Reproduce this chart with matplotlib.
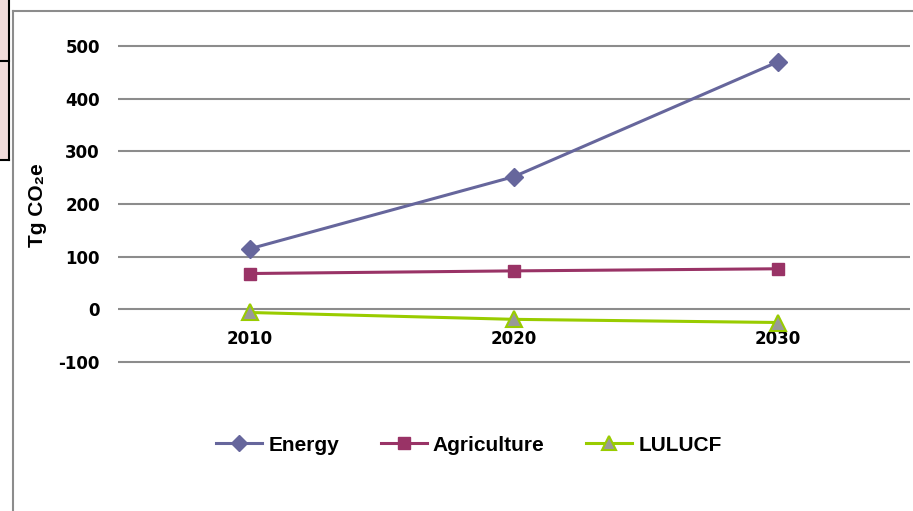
import matplotlib
matplotlib.use("Agg")
import matplotlib.pyplot as plt
from matplotlib.patches import Rectangle
from matplotlib.lines import Line2D

years = ["2010", "2020", "2030"]
energy = [115, 252, 470]
agriculture = [68, 73, 77]
lulucf = [-6, -19, -25]
y_ticks = [-100, 0, 100, 200, 300, 400, 500]

W, H = 913, 511
fig = plt.figure(figsize=(W / 100, H / 100), dpi=100)

# outer chart frame (top and left edges) and the clipped neighbour box
fig.add_artist(Line2D([13 / W, 13 / W], [0, 1 - 11 / H], color="#8c8c8c", lw=1.5))
fig.add_artist(Line2D([13 / W, 1], [1 - 11 / H, 1 - 11 / H], color="#8c8c8c", lw=1.5))
fig.add_artist(Rectangle((0, 1 - 160 / H), 8.5 / W, 160 / H, facecolor="#f2dcdb",
                         edgecolor="none"))
fig.add_artist(Line2D([8.5 / W, 8.5 / W], [1 - 160 / H, 1], color="black", lw=1.5))
fig.add_artist(Line2D([0, 8.5 / W], [1 - 160 / H, 1 - 160 / H], color="black", lw=1.5))
fig.add_artist(Line2D([0, 8.5 / W], [1 - 61 / H, 1 - 61 / H], color="black", lw=1.5))

left, right, top, bottom = 118, 910, 46, 362
ax = fig.add_axes([left / W, 1 - bottom / H, (right - left) / W, (bottom - top) / H])

x = [0.5, 1.5, 2.5]
ax.plot(x, energy, color="#66669c", lw=2.2, marker="D", ms=9, mfc="#66669c",
        mec="#66669c", label="Energy", zorder=3)
ax.plot(x, agriculture, color="#993366", lw=2.2, marker="s", ms=9, mfc="#993366",
        mec="#993366", label="Agriculture", zorder=3)
ax.plot(x, lulucf, color="#99cc00", lw=2.2, marker="^", ms=11, mfc="#999999",
        mec="#99cc00", mew=1.5, label="LULUCF", zorder=3)

ax.set_xlim(0, 3)
ax.set_ylim(-100, 500)
ax.set_yticks(y_ticks)
ax.set_yticklabels([str(v) for v in y_ticks], fontsize=12, fontweight="bold",
                   family="DejaVu Sans")
ax.yaxis.grid(True, color="#8c8c8c", lw=1.5)
for gl in ax.get_ygridlines():
    gl.set_clip_on(False)
    gl.set_solid_capstyle("butt")
ax.set_axisbelow(True)
for s in ax.spines.values():
    s.set_visible(False)
ax.spines["bottom"].set_position(("data", 0))
ax.set_xticks(x)
ax.set_xticklabels(years, fontsize=12, fontweight="bold", family="DejaVu Sans")
ax.tick_params(axis="x", length=0, pad=15)
ax.tick_params(axis="y", length=0, pad=13)
ax.patch.set_alpha(0)

fig.text(37 / W, 1 - 205 / H, "Tg CO\u2082e", rotation=90, ha="center", va="center",
         fontsize=15, fontweight="bold", family=["Liberation Sans", "DejaVu Sans"])

fig.legend(loc="center", bbox_to_anchor=(469 / W, 1 - 445 / H), ncol=3, frameon=False,
           prop={"family": "Liberation Sans", "weight": "bold", "size": 15},
           handlelength=2.2, columnspacing=2.0, handletextpad=0.3, markerscale=0.9)

fig.savefig("out.png", dpi=100)
